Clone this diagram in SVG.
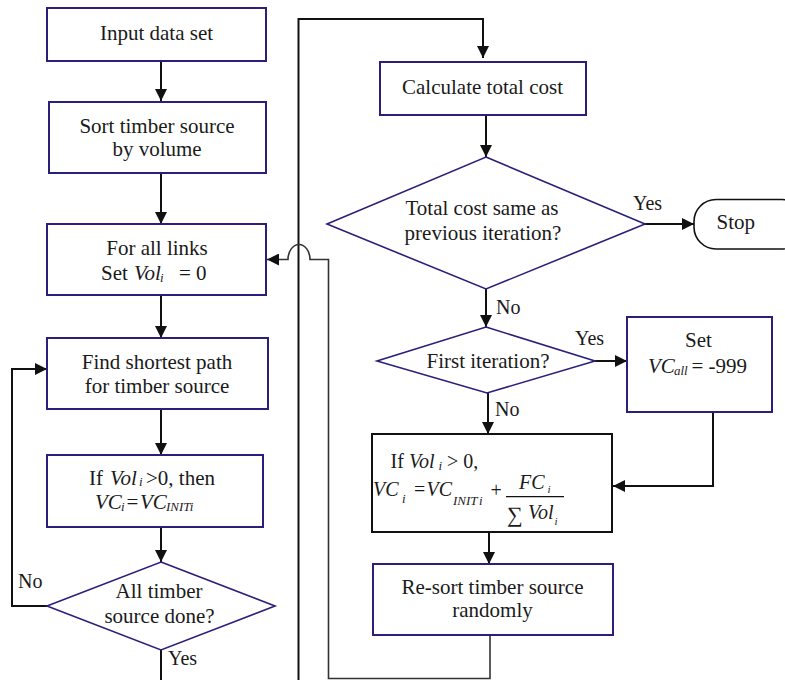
<svg xmlns="http://www.w3.org/2000/svg" width="785" height="680" viewBox="0 0 785 680" font-family="'Liberation Serif', 'Times New Roman', Tinos, 'DejaVu Serif', serif">
<defs>
<marker id="ah" markerUnits="userSpaceOnUse" markerWidth="12" markerHeight="12" refX="12" refY="6" orient="auto"><path d="M0,0 L12,6 L0,12 z" fill="#111"/></marker>
<style>
.box{fill:#fff;stroke:#2a1f7a;stroke-width:2}
.blk{fill:#fff;stroke:#111;stroke-width:2}
.dia{fill:#fff;stroke:#2a1f7a;stroke-width:1.6}
.term{fill:#fff;stroke:#111;stroke-width:1.6}
text{font-family:'Liberation Serif','Times New Roman',Tinos,serif}
.t{font-size:21px;fill:#1a1a1a}
.c{text-anchor:middle}
.i{font-style:italic}
.s{font-size:13px}
.lb{font-size:20px}
.ln{fill:none;stroke:#111;stroke-width:2}
.lg{fill:none;stroke:#333;stroke-width:1.6}
</style>
</defs>
<rect width="785" height="680" fill="#fff"/>

<g id="connectors">
<path class="ln" d="M161,61 V101" marker-end="url(#ah)"/>
<path class="ln" d="M161,173 V224" marker-end="url(#ah)"/>
<path class="ln" d="M161,295 V338" marker-end="url(#ah)"/>
<path class="ln" d="M161,409 V455" marker-end="url(#ah)"/>
<path class="ln" d="M161,527 V562" marker-end="url(#ah)"/>
<path class="ln" d="M161,650 V680"/>
<path class="ln" d="M47,606 H12 V369 H47" marker-end="url(#ah)"/>
<path class="ln" d="M298.5,680 V19 H483 V58" marker-end="url(#ah)"/>
<path class="ln" d="M486,115 V157" marker-end="url(#ah)"/>
<path class="ln" d="M645,224 H694" marker-end="url(#ah)"/>
<path class="ln" d="M486,289 V327" marker-end="url(#ah)"/>
<path class="ln" d="M595,361 H627" marker-end="url(#ah)"/>
<path class="ln" d="M488,393 V434" marker-end="url(#ah)"/>
<path class="ln" d="M713,412 V486 H613" marker-end="url(#ah)"/>
<path class="ln" d="M489,532 V564" marker-end="url(#ah)"/>
<path class="lg" d="M490,635 V678.5 H328.5 V259.5 H310 A11 15 0 0 0 288 259.5 H267" marker-end="url(#ah)"/>
</g>

<g id="n-input">
<rect class="box" x="47" y="8" width="219" height="53"/>
<text class="t c" x="156.5" y="39.5">Input data set</text>
</g>

<g id="n-sort">
<rect class="box" x="49" y="102" width="217" height="71"/>
<text class="t c" x="157" y="133">Sort timber source</text>
<text class="t c" x="157" y="156">by volume</text>
</g>

<g id="n-links">
<rect class="box" x="47" y="224" width="219" height="71"/>
<text class="t c" x="157" y="255">For all links</text>
<text class="t"><tspan x="101" y="279.5">Set </tspan><tspan class="i" x="134" y="279.5">Vol</tspan><tspan class="i s" x="160" y="282">i</tspan><tspan x="179" y="279.5">= 0</tspan></text>
</g>

<g id="n-find">
<rect class="box" x="47" y="338" width="221" height="71"/>
<text class="t c" x="157" y="368.5">Find shortest path</text>
<text class="t c" x="157" y="392.5">for timber source</text>
</g>

<g id="n-if">
<rect class="box" x="47" y="455" width="216" height="72"/>
<text class="t"><tspan x="89" y="484.5">If </tspan><tspan class="i" x="110" y="484.5">Vol</tspan><tspan class="i s" x="139" y="486">i</tspan><tspan x="146" y="484.5">&gt;0, then</tspan></text>
<text class="t"><tspan class="i" x="95" y="508.5">VC</tspan><tspan class="i s" x="121" y="511">i</tspan><tspan x="126.5" y="508.5">=</tspan><tspan class="i" x="140" y="508.5">VC</tspan><tspan class="i s" x="166" y="511">INITi</tspan></text>
</g>

<g id="n-alldone">
<polygon class="dia" points="161,562 275,606 161,650 47,606"/>
<text class="t c" x="159" y="598">All timber</text>
<text class="t c" x="159.5" y="623">source done?</text>
</g>

<g id="n-calc">
<rect class="box" x="380" y="62" width="206" height="53"/>
<text class="t c" x="482.5" y="93.5">Calculate total cost</text>
</g>

<g id="n-same">
<polygon class="dia" points="486,157 645,224 486,289 327,224"/>
<text class="t c" x="482" y="215">Total cost same as</text>
<text class="t c" x="483" y="240">previous iteration?</text>
</g>

<g id="n-stop">
<rect class="term" x="694" y="199.5" width="110" height="49.5" rx="22" ry="22"/>
<text class="t" x="716.5" y="228.5">Stop</text>
</g>

<g id="n-first">
<polygon class="dia" points="486,327 595,361 487,393 377,361"/>
<text class="t c" x="488" y="367.5">First iteration?</text>
</g>

<g id="n-set">
<rect class="box" x="627" y="317" width="145" height="95"/>
<text class="t c" x="698.5" y="346.5">Set</text>
<text class="t"><tspan class="i" x="648" y="372.5">VC</tspan><tspan class="i s" x="674" y="374.5">all</tspan><tspan x="691.5" y="372.5">= -999</tspan></text>
</g>

<g id="n-formula">
<rect class="blk" x="372" y="434" width="240" height="98"/>
<text class="t" style="font-size:20px"><tspan x="390.5" y="467.5">If </tspan><tspan class="i" x="409" y="467.5">Vol</tspan><tspan class="i s" x="438.5" y="469.5">i</tspan><tspan x="447" y="467.5">&gt; 0,</tspan></text>
<text class="t" style="font-size:20px"><tspan class="i" x="373" y="496">VC</tspan><tspan class="i s" x="402" y="502.5">i</tspan><tspan x="414" y="496">=</tspan><tspan class="i" x="426.5" y="496">VC</tspan><tspan class="i s" x="453" y="505">INIT</tspan><tspan class="i s" x="479" y="505">i</tspan><tspan x="490.5" y="497">+</tspan></text>
<line x1="506" y1="496.7" x2="564" y2="496.7" stroke="#111" stroke-width="1.2"/>
<text class="t" style="font-size:20px"><tspan class="i" x="519" y="488.5">FC</tspan><tspan class="i" style="font-size:11px" x="547.5" y="493">i</tspan></text>
<text class="t" style="font-size:20px"><tspan x="507" y="521.5" style="font-size:22px">∑</tspan><tspan class="i" x="528" y="518.5">Vol</tspan><tspan class="i" style="font-size:11px" x="554.5" y="525">i</tspan></text>
</g>

<g id="n-resort">
<rect class="box" x="373" y="564" width="240" height="71"/>
<text class="t c" x="492.5" y="593.5">Re-sort timber source</text>
<text class="t c" x="492.5" y="617">randomly</text>
</g>

<g id="labels">
<text class="t lb" x="633" y="210">Yes</text>
<text class="t lb" x="496" y="313.5">No</text>
<text class="t lb" x="575" y="344.5">Yes</text>
<text class="t lb" x="495" y="416">No</text>
<text class="t lb" x="18" y="588">No</text>
<text class="t lb" x="168" y="665">Yes</text>
</g>
</svg>
